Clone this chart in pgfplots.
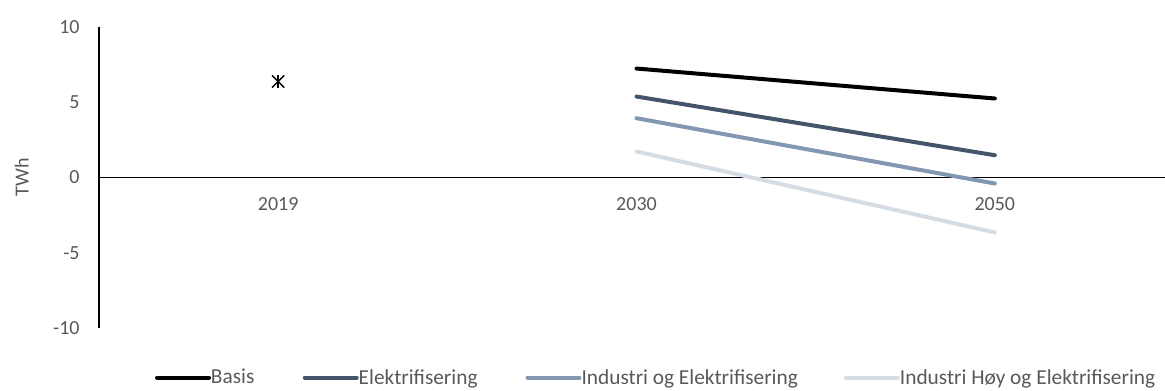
\documentclass[border=0pt]{standalone}
\usepackage{pgfplots}
\pgfplotsset{compat=1.18}
\usepackage{fontspec}
\setmainfont{Carlito}
\definecolor{txt}{HTML}{595959}
\definecolor{elek}{HTML}{44546A}
\definecolor{ind}{HTML}{8497B0}
\definecolor{indh}{HTML}{D6DCE4}
\newcommand{\cf}{\fontsize{15pt}{18pt}\selectfont}
\newcommand{\lf}{\fontsize{16pt}{19pt}\selectfont}
\begin{document}
\begin{tikzpicture}
\useasboundingbox (-74.25pt,-46.5pt) rectangle (799.5pt,246pt);
\begin{axis}[
  at={(0,0)}, anchor=south west,
  scale only axis, width=806.25pt, height=225.75pt,
  xmin=-0.5, xmax=2.5, ymin=-10, ymax=10,
  axis x line=middle, axis y line=left,
  axis line style={-, black, line width=1.4pt},
  major tick length=0pt,
  xtick={0,1,2}, xticklabels={2019,2030,2050},
  ytick={-10,-5,0,5,10}, yticklabels={-10,-5,0,5,10},
  tick label style={font=\cf, text=txt},
  xticklabel style={anchor=center, yshift=-20.25pt},
  yticklabel style={anchor=east, xshift=-11pt},
  ylabel={TWh},
  every axis y label/.style={at={(axis description cs:-0.072,0.5)}, rotate=90, anchor=center, font=\cf, text=txt},
  clip=false,
  legend columns=4,
  legend style={at={(axis description cs:0,0)}, anchor=west, xshift=42pt, yshift=-37.2pt,
    draw=none, fill=none, inner sep=0pt, outer sep=0pt, column sep=0pt,
    nodes={inner sep=0pt, text=txt, font=\lf}},
  legend image code/.code={\path (0,0) -- (39pt,0); \draw[#1, line cap=round] (1.5pt,0) -- (36pt,0);},
  every axis plot/.append style={line width=3pt, line cap=round},
]
\addplot[black, mark=none] coordinates {(1,7.24) (2,5.25)};
\addlegendentry{\makebox[68.8pt][l]{Basis}}
\addplot[elek, mark=none] coordinates {(1,5.38) (2,1.48)};
\addlegendentry{\makebox[125.1pt][l]{Elektrifisering}}
\addplot[ind, mark=none] coordinates {(1,3.94) (2,-0.40)};
\addlegendentry{\makebox[196.8pt][l]{Industri og Elektrifisering}}
\addplot[indh, mark=none] coordinates {(1,1.73) (2,-3.65)};
\addlegendentry{Industri Høy og Elektrifisering}
\addplot[forget plot, only marks, mark=x, mark size=6.5pt, black, line width=1.1pt, line cap=butt] coordinates {(0,6.38)};
\addplot[forget plot, only marks, mark=|, mark size=4.8pt, black, line width=1.1pt, line cap=butt] coordinates {(0,6.38)};
\end{axis}
\end{tikzpicture}
\end{document}
